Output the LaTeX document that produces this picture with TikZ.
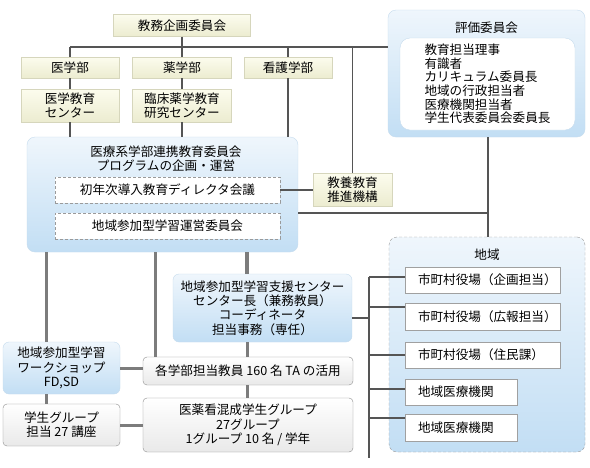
\documentclass[tikz,border=0pt]{standalone}
\usepackage{fontspec}
\setmainfont{Noto Sans CJK JP}
\definecolor{beigetop}{HTML}{FCFCEE}
\definecolor{beigebot}{HTML}{ECECD0}
\definecolor{beigeline}{HTML}{D6D6BC}
\definecolor{bluetop}{HTML}{EFF6FC}
\definecolor{bluebot}{HTML}{C2DEF4}
\definecolor{blueline}{HTML}{C6DCEE}
\definecolor{graybot}{HTML}{E9E9E9}
\definecolor{grayline}{HTML}{8E8E8E}
\definecolor{dashline}{HTML}{9A9A9A}
\definecolor{plainline}{HTML}{A0A0A0}
\definecolor{linedark}{HTML}{555555}
\definecolor{linegray}{HTML}{7C7C7C}
\newcommand\myfs{\fontsize{12.6pt}{14.3pt}\selectfont}
\newcommand\mylistfs{\fontsize{12.6pt}{13.6pt}\selectfont}
\tikzset{
  base/.style={inner sep=0pt, align=center, font=\myfs, text=black},
  beige/.style={base, draw=beigeline, top color=beigetop, bottom color=beigebot},
  bluebox/.style={base, draw=blueline, top color=bluetop, bottom color=bluebot, rounded corners=6pt},
  graybox/.style={base, draw=grayline, top color=white, bottom color=graybot, rounded corners=4pt},
  dashbox/.style={base, draw=dashline, dash pattern=on 3pt off 2pt, fill=white},
  plainbox/.style={base, draw=plainline, fill=white, align=left, inner xsep=13pt},
  thinline/.style={draw=linedark, line width=1.5pt},
  thickline/.style={draw=linegray, line width=3pt},
}
\begin{document}
\begin{tikzpicture}[x=1pt, y=-1pt]
\useasboundingbox (0,0) rectangle (590,467);
\fill[white] (0,0) rectangle (590,467);

% top rows
\node[beige, minimum width=137pt, minimum height=22pt] (kyomu) at (182,25.5) {教務企画委員会};
\node[beige, minimum width=98pt, minimum height=21pt] (igaku) at (70,67.5) {医学部};
\node[beige, minimum width=99pt, minimum height=21pt] (yaku) at (182,67.5) {薬学部};
\node[beige, minimum width=88pt, minimum height=21pt] (kango) at (288,67.5) {看護学部};
\node[beige, minimum width=98pt, minimum height=33pt] (igakucenter) at (70,105.5) {医学教育\\センター};
\node[beige, minimum width=99pt, minimum height=33pt] (rinsho) at (182,105.5) {臨床薬学教育\\研究センター};

% big committee box
\node[bluebox, rounded corners=8pt, minimum width=271pt, minimum height=115pt] (iryo) at (162.5,194.5) {};
\node[base] (iryot) at (166,159) {医療系学部連携教育委員会\\プログラムの企画・運営};
\node[dashbox, minimum width=225pt, minimum height=26pt] (shonen) at (167.5,190) {初年次導入教育ディレクタ会議};
\node[dashbox, minimum width=225pt, minimum height=26pt] (unei) at (167.5,226) {地域参加型学習運営委員会};
\node[beige, minimum width=79pt, minimum height=33pt] (kyoyo) at (352.5,189.5) {教養教育\\推進機構};

% evaluation committee
\node[bluebox, rounded corners=8pt, minimum width=197pt, minimum height=127pt] (hyoka) at (486.5,73.5) {};
\node[base] (hyokat) at (486.5,28) {評価委員会};
\node[base, draw=blueline, fill=white, rounded corners=10pt, minimum width=175pt, minimum height=92pt, align=left, font=\mylistfs] (hyokalist) at (487.5,84)
  {教育担当理事\\有識者\\カリキュラム委員長\\地域の行政担当者\\医療機関担当者\\学生代表委員会委員長};

% region box
\node[base, draw=dashline, dash pattern=on 3pt off 2pt, top color=bluetop, bottom color=bluebot, rounded corners=8pt, minimum width=196pt, minimum height=215pt] (chiiki) at (487,344.5) {};
\node[base] (chiikit) at (487,255) {地域};
\node[plainbox, text width=129pt, minimum height=26pt] (c1) at (482.5,280) {市町村役場（企画担当）};
\node[plainbox, text width=129pt, minimum height=27pt] (c2) at (482.5,316.5) {市町村役場（広報担当）};
\node[plainbox, text width=129pt, minimum height=26pt] (c3) at (482.5,355) {市町村役場（住民課）};
\node[plainbox, text width=86pt, minimum height=26pt] (c4) at (461,392) {地域医療機関};
\node[plainbox, text width=86pt, minimum height=27pt] (c5) at (461,427.5) {地域医療機関};

% lower boxes
\node[bluebox, minimum width=179pt, minimum height=68pt] (shien) at (262.5,308) {地域参加型学習支援センター\\センター長（兼務教員）\\コーディネータ\\担当事務（専任）};
\node[graybox, minimum width=210pt, minimum height=28pt] (kakugakubu) at (248,371) {各学部担当教員 160 名 TA の活用};
\node[graybox, minimum width=210pt, minimum height=54pt] (iyakukan) at (248,425) {医薬看混成学生グループ\\27グループ\\1グループ 10 名 / 学年};
\node[bluebox, minimum width=117pt, minimum height=52pt] (ws) at (61.5,368) {地域参加型学習\\ワークショップ\\FD,SD};
\node[graybox, minimum width=117pt, minimum height=42pt] (gakusei) at (61.5,425) {学生グループ\\担当 27 講座};

% upper connectors
\coordinate (bus) at (182,47);
\coordinate (hj) at (488,213);
\draw[thinline] (kyomu.south) -- (kyomu.south |- bus);
\draw[thinline] (igaku.north |- bus) -- (hyoka.west |- bus);
\draw[thinline] (igaku.north |- bus) -- (igaku.north);
\draw[thinline] (yaku.north |- bus) -- (yaku.north);
\draw[thinline] (kango.north |- bus) -- (kango.north);
\draw[thinline] (kyoyo.north |- bus) -- (kyoyo.north);
\draw[thinline] (igaku) -- (igakucenter);
\draw[thinline] (yaku) -- (rinsho);
\draw[thinline] (igakucenter.south) -- (igakucenter.south |- iryo.north);
\draw[thinline] (rinsho.south) -- (rinsho.south |- iryo.north);
\draw[thinline] (kango.south) -- (kango.south |- iryo.north);
\draw[thinline] (shonen.east) -- (kyoyo.west |- shonen.east);
\draw[thinline] (iryo.east |- hj) -- (hj);
\draw[thinline] (hyoka.south -| hj) -- (chiiki.north -| hj);

% lower connectors
\coordinate (lx) at (46,0);
\coordinate (mx) at (155,0);
\coordinate (rx) at (247,0);
\draw[thickline] (iryo.south -| lx) -- (ws.north -| lx);
\draw[thickline] (ws.south -| lx) -- (gakusei.north -| lx);
\draw[thickline] (iryo.south -| mx) -- (kakugakubu.north -| mx);
\draw[thickline, line width=4.5pt] (iryo.south -| rx) -- (shien.north -| rx);
\draw[thickline] (shien.south -| rx) -- (kakugakubu.north -| rx);
\draw[thickline] (kakugakubu.south -| rx) -- (iyakukan.north -| rx);
\draw[thickline] (ws.east) -- (kakugakubu.west |- ws.east);
\draw[thickline] (gakusei.east) -- (iyakukan.west |- gakusei.east);

% bracket to region
\coordinate (sj) at (369,318);
\coordinate (btop) at (369,277);
\coordinate (bbot) at (369,458);
\coordinate (b1) at (369,277);
\coordinate (b2) at (369,307);
\coordinate (b3) at (369,355);
\coordinate (b4) at (369,389);
\coordinate (b5) at (369,418);
\draw[thinline, line width=1.2pt] (shien.east |- sj) -- (sj);
\draw[thinline, line width=1.2pt] (btop) -- (bbot);
\draw[thinline, line width=1.2pt] (b1) -- (b1 -| c1.west);
\draw[thinline, line width=1.2pt] (b2) -- (b2 -| c2.west);
\draw[thinline, line width=1.2pt] (b3) -- (b3 -| c3.west);
\draw[thinline, line width=1.2pt] (b4) -- (b4 -| c4.west);
\draw[thinline, line width=1.2pt] (b5) -- (b5 -| c5.west);
\end{tikzpicture}
\end{document}
